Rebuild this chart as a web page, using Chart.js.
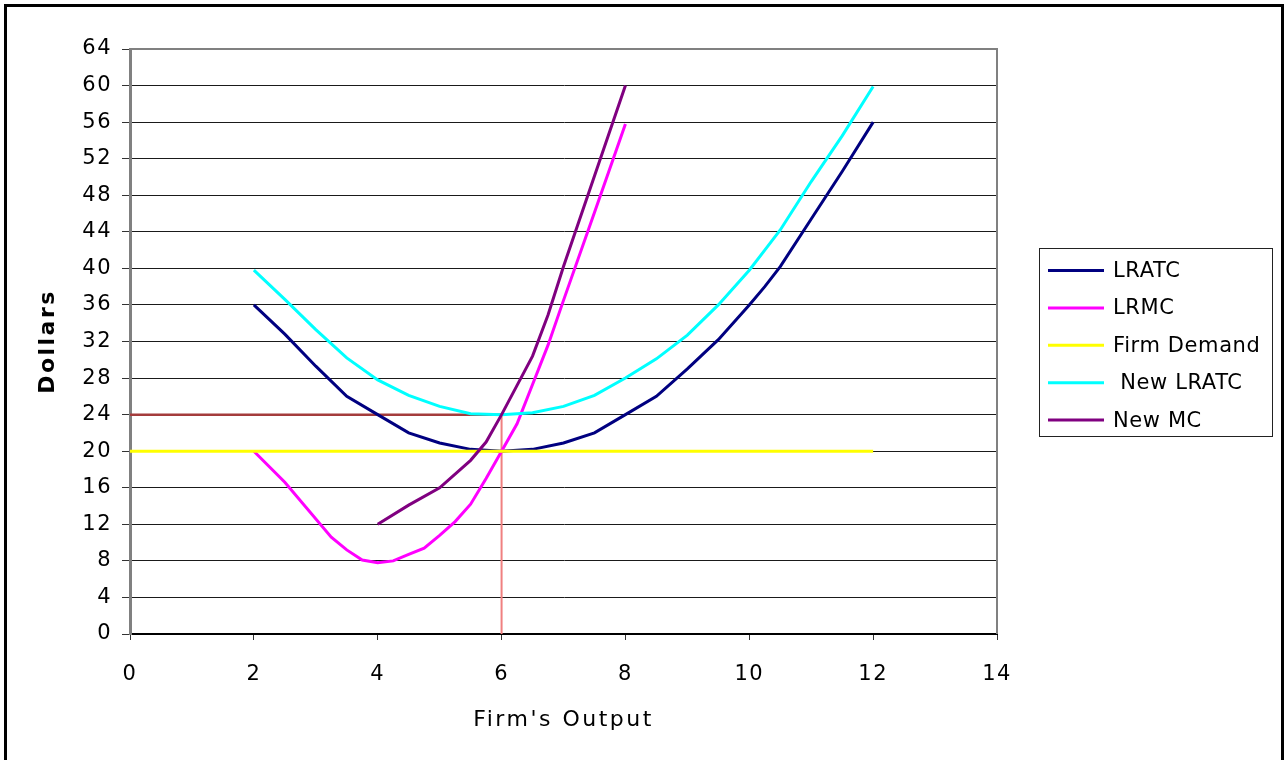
<!DOCTYPE html>
<html>
<head>
<meta charset="utf-8">
<title>Firm cost curves</title>
<script src="https://cdn.jsdelivr.net/npm/chart.js@4.4.1/dist/chart.umd.min.js"></script>
<style>
  html, body { margin: 0; padding: 0; background: #fff; }
  #wrap { position: relative; width: 1288px; height: 760px; overflow: hidden; }
  #frame { position: absolute; left: 4px; top: 4px; width: 1274px; height: 800px;
           border: 3px solid #000; pointer-events: none; }
  canvas { position: absolute; left: 0; top: 0; }
</style>
</head>
<body>
<div id="wrap">
  <canvas id="chart" width="1288" height="760"></canvas>
  <div id="frame"></div>
</div>
<script>
// Long-run average cost
const lratcQ    = [2, 2.5, 3, 3.5, 4, 4.5, 5, 5.5, 6, 6.5, 7, 7.5, 8, 8.5, 9, 9.5, 10, 10.25, 10.5, 11, 11.5, 12];
const lratcCost = [36, 32.8, 29.3, 26, 24, 22, 20.9, 20.2, 20, 20.2, 20.9, 22, 24, 26, 29, 32.2, 36, 38, 40.2, 45.4, 50.6, 56];

// Long-run marginal cost
const lrmcQ    = [2, 2.5, 3.25, 3.5, 3.75, 4, 4.25, 4.5, 4.75, 5, 5.25, 5.5, 5.75, 6, 6.25, 6.5, 6.75, 7, 7.5, 8];
const lrmcCost = [20, 16.6, 10.6, 9.2, 8.1, 7.8, 8.0, 8.7, 9.4, 10.8, 12.3, 14.2, 17.0, 20, 23.0, 27.3, 31.6, 36.5, 46.1, 55.8];

// Price facing the firm
const demandQ     = [0, 12];
const demandPrice = [20, 20];

// Average cost after the cost increase
const newLratcQ    = [2, 2.5, 3, 3.5, 4, 4.5, 5, 5.5, 6, 6.5, 7, 7.5, 8, 8.5, 9, 9.5, 10, 10.25, 10.5, 11, 11.5, 12];
const newLratcCost = [39.8, 36.6, 33.3, 30.2, 27.8, 26.1, 24.9, 24.1, 24, 24.2, 24.9, 26.1, 28, 30.1, 32.7, 36, 39.8, 42, 44.2, 49.5, 54.5, 59.9];

// Marginal cost after the cost increase
const newMcQ    = [4, 4.5, 5, 5.5, 5.75, 6, 6.25, 6.5, 6.75, 7, 7.5, 8];
const newMcCost = [12, 14.1, 16, 19, 21.0, 24, 27.2, 30.4, 34.9, 40.2, 50.1, 60];

// Guide lines marking the new minimum cost at q = 6
const priceGuideQ    = [0, 6];
const priceGuideCost = [24, 24];
const outputGuideQ    = [6, 6];
const outputGuideCost = [24, 0];

// Axis ticks
const outputTicks = [0, 2, 4, 6, 8, 10, 12, 14];
const dollarTicks = [0, 4, 8, 12, 16, 20, 24, 28, 32, 36, 40, 44, 48, 52, 56, 60, 64];

const FONT = 'DejaVu Sans';
const pts = (xs, ys) => xs.map((x, i) => ({ x: x, y: ys[i] }));

// Axis titles are drawn with wider letter spacing
function spacedTitle(scale, spacing) {
  if (scale.$spaced) return;
  const base = scale.drawTitle;
  scale.drawTitle = function () {
    const c = this.ctx;
    c.save();
    c.letterSpacing = spacing;
    base.call(this);
    c.restore();
  };
  scale.$spaced = true;
}

const textSpacing = {
  id: 'textSpacing',
  beforeDraw(chart) { chart.ctx.letterSpacing = '1.5px'; }
};

// Grey frame on the top and right of the plot area
const plotFrame = {
  id: 'plotFrame',
  beforeDatasetsDraw(chart) {
    const { ctx, chartArea: a } = chart;
    ctx.save();
    ctx.strokeStyle = '#808080';
    ctx.lineWidth = 2;
    ctx.beginPath();
    ctx.moveTo(a.left, a.top);
    ctx.lineTo(a.right, a.top);
    ctx.lineTo(a.right, a.bottom);
    ctx.stroke();
    ctx.restore();
  }
};

// Boxed legend to the right of the plot
const boxedLegend = {
  id: 'boxedLegend',
  afterDraw(chart) {
    const ctx = chart.ctx;
    const items = chart.data.datasets.filter(d => d.label);
    ctx.save();
    ctx.letterSpacing = '0.6px';
    ctx.strokeStyle = '#222';
    ctx.lineWidth = 1;
    ctx.strokeRect(1039.5, 248.5, 233, 188);
    ctx.font = '21px "' + FONT + '"';
    ctx.textBaseline = 'middle';
    ctx.textAlign = 'left';
    items.forEach((d, i) => {
      const y = 270.5 + i * 37.4;
      ctx.strokeStyle = d.borderColor;
      ctx.lineWidth = 3;
      ctx.beginPath();
      ctx.moveTo(1048, y);
      ctx.lineTo(1104, y);
      ctx.stroke();
      ctx.fillStyle = '#000';
      ctx.fillText(d.label, 1113, y + 1);
    });
    ctx.restore();
  }
};

new Chart(document.getElementById('chart').getContext('2d'), {
  type: 'line',
  data: {
    datasets: [
      { label: 'LRATC',       data: pts(lratcQ, lratcCost),       borderColor: '#000080', order: 5 },
      { label: 'LRMC',        data: pts(lrmcQ, lrmcCost),         borderColor: '#FF00FF', order: 4 },
      { label: 'Firm Demand', data: pts(demandQ, demandPrice),    borderColor: '#FFFF00', order: 3 },
      { label: ' New LRATC',  data: pts(newLratcQ, newLratcCost), borderColor: '#00FFFF', order: 2 },
      { label: 'New MC',      data: pts(newMcQ, newMcCost),       borderColor: '#800080', order: 1 },
      { label: '', data: pts(priceGuideQ, priceGuideCost),   borderColor: '#A43C3C', borderWidth: 2.5, order: 6 },
      { label: '', data: pts(outputGuideQ, outputGuideCost), borderColor: '#F08080', borderWidth: 2, order: 7 }
    ]
  },
  options: {
    responsive: false,
    animation: false,
    devicePixelRatio: 1,
    elements: {
      line: { borderWidth: 3, tension: 0, fill: false },
      point: { radius: 0, hoverRadius: 0 }
    },
    layout: { padding: { left: 0, top: 49, right: 291, bottom: 0 } },
    plugins: { legend: { display: false }, tooltip: { enabled: false } },
    scales: {
      x: {
        type: 'linear',
        min: outputTicks[0],
        max: outputTicks[outputTicks.length - 1],
        afterBuildTicks(s) { s.ticks = outputTicks.map(v => ({ value: v })); },
        ticks: { color: '#000', font: { family: FONT, size: 21 }, padding: 22, maxRotation: 0, autoSkip: false },
        grid: { drawOnChartArea: false, tickLength: 6, tickColor: '#333', tickWidth: 1 },
        border: { color: '#000', width: 2 },
        title: {
          display: true, text: "Firm's Output", color: '#000',
          font: { family: FONT, size: 22 }, padding: { top: 0, bottom: 27 }
        },
        afterFit(s) { s.height = 126; spacedTitle(s, '2.5px'); }
      },
      y: {
        type: 'linear',
        min: dollarTicks[0],
        max: dollarTicks[dollarTicks.length - 1],
        afterBuildTicks(s) { s.ticks = dollarTicks.map(v => ({ value: v })); },
        ticks: { color: '#000', font: { family: FONT, size: 21 }, padding: 10, autoSkip: false },
        grid: { color: '#1a1a1a', lineWidth: 1, tickLength: 8, tickColor: '#333' },
        border: { color: '#808080', width: 3 },
        title: {
          display: true, text: 'Dollars', color: '#000',
          font: { family: FONT, size: 22, weight: 'bold' }, padding: { top: 35, bottom: 0 }
        },
        afterFit(s) { s.width = 130; spacedTitle(s, '2.5px'); }
      }
    }
  },
  plugins: [textSpacing, plotFrame, boxedLegend]
});
</script>
</body>
</html>
